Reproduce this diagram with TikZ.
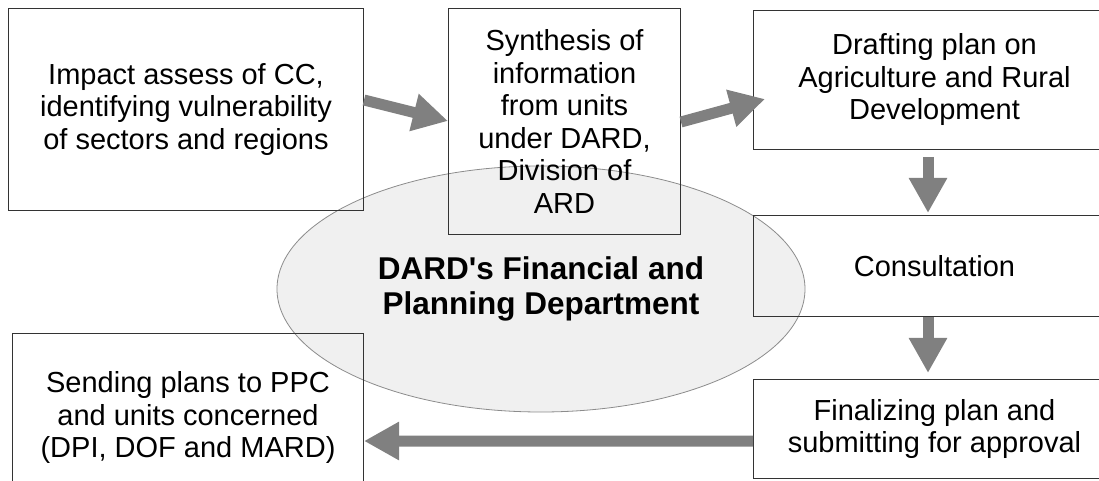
\documentclass[tikz,border=0pt]{standalone}
\usepackage{fontspec}
\setmainfont{Liberation Sans}
\usetikzlibrary{arrows.meta,shapes.geometric}
\definecolor{arrowgray}{HTML}{808080}
\definecolor{ovalfill}{HTML}{F0F0F0}
\definecolor{ovalline}{HTML}{8C8C8C}
\definecolor{boxline}{HTML}{333333}
\begin{document}
\begin{tikzpicture}[x=1bp,y=-1bp,
  box/.style={draw=boxline, line width=1bp, rectangle, anchor=north west,
    align=center, inner sep=0pt, font=\fontsize{29bp}{32.5bp}\selectfont},
  oval/.style={ellipse, draw=ovalline, fill=ovalfill, line width=0.8bp,
    inner sep=0pt, minimum width=528bp, minimum height=246bp, align=center,
    font=\bfseries\fontsize{31.5bp}{35bp}\selectfont},
  flow/.style={draw=arrowgray, line width=11bp,
    -{Triangle[width=36bp,length=35bp]}}]
\useasboundingbox (0,0) rectangle (1099,481);

% department oval, lying behind the open boxes
\node[oval] (dept) at (541,289)
  {DARD\textquotesingle s Financial and\\Planning Department};

% process steps
\node[box, minimum width=355bp, minimum height=202bp] (imp) at (8,8)
  {Impact assess of CC,\\identifying vulnerability\\of sectors and regions};
\node[box, minimum width=232bp, minimum height=226bp] (syn) at (448,8)
  {Synthesis of\\information\\from units\\under DARD,\\Division of\\ARD};
\node[box, minimum width=362bp, minimum height=139bp] (draft) at (753,10)
  {Drafting plan on\\Agriculture and Rural\\Development};
\node[box, minimum width=362bp, minimum height=101bp] (cons) at (753,215)
  {Consultation};
\node[box, minimum width=362bp, minimum height=99bp] (fin) at (753,379)
  {Finalizing plan and\\submitting for approval};
\node[box, minimum width=351bp, minimum height=168bp] (send) at (12,333)
  {Sending plans to PPC\\and units concerned\\(DPI, DOF and MARD)};

% arrow end points on the box borders
\coordinate (a1s) at ([yshift=-92bp]imp.north east);
\coordinate (a1e) at ([yshift=-113bp]syn.north west);
\coordinate (a2s) at ([yshift=-114bp]syn.north east);
\coordinate (a2e) at ([xshift=12bp,yshift=-89bp]draft.north west);
\coordinate (a3s) at ([xshift=175bp,yshift=-7bp]draft.south west);
\coordinate (a3e) at ([xshift=175bp,yshift=2bp]cons.north west);
\coordinate (a4s) at ([xshift=175bp]cons.south west);
\coordinate (a4e) at ([xshift=175bp,yshift=6bp]fin.north west);
\coordinate (a5s) at ([yshift=-62bp]fin.north west);
\coordinate (a5e) at ([yshift=-108bp]send.north east);

% flow arrows
\draw[flow] (a1s) -- (a1e);
\draw[flow] (a2s) -- (a2e);
\draw[flow] (a3s) -- (a3e);
\draw[flow] (a4s) -- (a4e);
\draw[flow] (a5s) -- (a5e);
\end{tikzpicture}
\end{document}
